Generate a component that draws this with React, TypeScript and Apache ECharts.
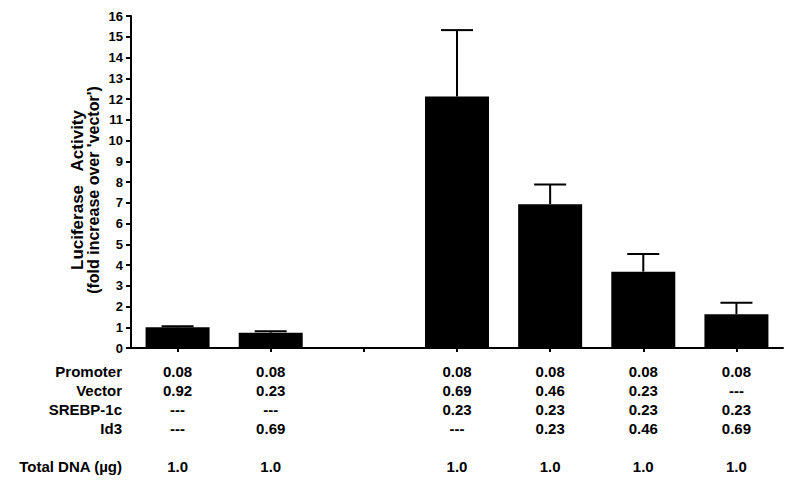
import React, { useEffect, useRef } from "react";
import * as echarts from "echarts";

const categories = ["c1", "c2", "gap", "c4", "c5", "c6", "c7"];
const means: (number | null)[] = [1.0, 0.74, null, 12.12, 6.93, 3.68, 1.63];
const errors: (number | null)[] = [0.05, 0.07, null, 3.2, 0.95, 0.85, 0.55];
const rowLabels = ["Promoter", "Vector", "SREBP-1c", "Id3", "", "Total DNA (µg)"];
const promoter = ["0.08", "0.08", "", "0.08", "0.08", "0.08", "0.08"];
const vector = ["0.92", "0.23", "", "0.69", "0.46", "0.23", "---"];
const srebp = ["---", "---", "", "0.23", "0.23", "0.23", "0.23"];
const id3 = ["---", "0.69", "", "---", "0.23", "0.46", "0.69"];
const totalDna = ["1.0", "1.0", "", "1.0", "1.0", "1.0", "1.0"];
const yTicks = { min: 0, max: 16, interval: 1 };
const yNameLine1 = "Luciferase   Activity";
const yNameLine2 = "(fold increase over 'vector')";

const FONT = "'Liberation Sans', Arial, Helvetica, sans-serif";

export default function App() {
  const ref = useRef<HTMLDivElement>(null);
  useEffect(() => {
    if (!ref.current) return;
    const chart = echarts.init(ref.current, null, { renderer: "svg" });
    const barData = means.map((v) => (v == null ? "-" : v));
    const errData: number[][] = [];
    means.forEach((m, i) => {
      if (m != null && errors[i] != null) errData.push([i, m, errors[i] as number]);
    });
    const gridTop = 16;
    const gridBottom = 137;
    const lineH = 19;
    const labelMargin = 14;
    const axisY = 485 - gridBottom;
    const nameCenterY = 190;
    chart.setOption({
      animation: false,
      backgroundColor: "#fff",
      textStyle: { fontFamily: FONT },
      grid: { left: 131, right: 17, top: gridTop, bottom: gridBottom, containLabel: false },
      xAxis: {
        type: "category",
        data: categories,
        axisLine: { lineStyle: { color: "#000", width: 2 } },
        axisTick: { show: true, alignWithLabel: true, length: 4, lineStyle: { color: "#000", width: 2 } },
        axisLabel: {
          margin: labelMargin,
          interval: 0,
          color: "#000",
          fontWeight: "bold",
          fontSize: 15,
          fontFamily: FONT,
          lineHeight: lineH,
          formatter: (_v: string, i: number) =>
            [promoter[i], vector[i], srebp[i], id3[i], " ", totalDna[i]].join("\n"),
        },
        splitLine: { show: false },
      },
      yAxis: {
        type: "value",
        min: yTicks.min,
        max: yTicks.max,
        interval: yTicks.interval,
        axisLine: { show: true, lineStyle: { color: "#000", width: 2 } },
        axisTick: { show: true, length: 5, lineStyle: { color: "#000", width: 2 } },
        axisLabel: { color: "#000", fontWeight: "bold", fontSize: 13, margin: 8, fontFamily: FONT },
        splitLine: { show: false },
      },
      graphic: [
        {
          type: "group",
          children: rowLabels.map((t, k) => ({
            type: "text",
            x: 122,
            y: axisY + labelMargin + lineH * k + lineH / 2,
            style: {
              text: t,
              align: "right",
              verticalAlign: "middle",
              fill: "#000",
              font: `bold 15px ${FONT}`,
            },
          })),
        },
        {
          type: "text",
          x: 77.5,
          y: nameCenterY,
          rotation: Math.PI / 2,
          style: { text: yNameLine1, align: "center", verticalAlign: "middle", fill: "#000", font: `bold 17px ${FONT}` },
        },
        {
          type: "text",
          x: 93.5,
          y: nameCenterY,
          rotation: Math.PI / 2,
          style: { text: yNameLine2, align: "center", verticalAlign: "middle", fill: "#000", font: `bold 16px ${FONT}` },
        },
      ],
      series: [
        {
          type: "bar",
          data: barData,
          barWidth: 64,
          itemStyle: { color: "#000" },
          silent: true,
        },
        {
          type: "custom",
          data: errData,
          encode: { x: 0, y: 1 },
          z: 5,
          silent: true,
          renderItem: (_params: any, api: any) => {
            const x = api.value(0);
            const m = api.value(1);
            const e = api.value(2);
            const p1 = api.coord([x, m]);
            const p2 = api.coord([x, m + e]);
            const half = 16;
            return {
              type: "group",
              children: [
                { type: "line", shape: { x1: p1[0], y1: p1[1], x2: p2[0], y2: p2[1] }, style: { stroke: "#000", lineWidth: 2 } },
                { type: "line", shape: { x1: p2[0] - half, y1: p2[1], x2: p2[0] + half, y2: p2[1] }, style: { stroke: "#000", lineWidth: 2 } },
              ],
            };
          },
        },
      ],
    });
    return () => chart.dispose();
  }, []);
  return <div ref={ref} style={{ position: "fixed", left: 0, top: 0, width: 800, height: 485 }} />;
}
